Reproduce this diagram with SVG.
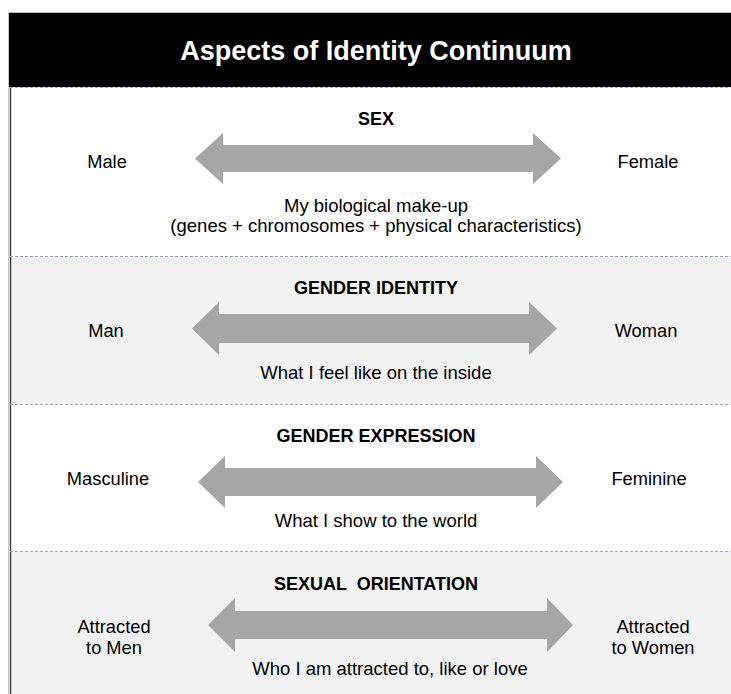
<svg xmlns="http://www.w3.org/2000/svg" width="731" height="694" viewBox="0 0 731 694">
<defs>
<style>
.t{font-family:"Liberation Sans",Arial,sans-serif;fill:#000;text-anchor:middle}
.h{font-size:18px;font-weight:bold}
.s{font-size:18.3px}
.d{font-size:18.5px}
.arr{fill:#a6a6a6}
.div{stroke:#8eaadb;stroke-width:1;stroke-dasharray:3,2;fill:none}
</style>
</defs>
<rect width="731" height="694" fill="#ffffff"/>
<g id="header">
<rect x="9" y="12" width="722" height="75" fill="#000"/>
<line x1="9" y1="12.5" x2="731" y2="12.5" stroke="#c0c0c0" stroke-width="1"/>
<text x="376" y="60" class="t" style="font-size:27px;font-weight:bold;fill:#fff">Aspects of Identity Continuum</text>
</g>
<g id="rows">
<rect x="10" y="87" width="721" height="169" fill="#ffffff"/>
<rect x="10" y="256" width="721" height="148" fill="#f2f2f2"/>
<rect x="10" y="404" width="721" height="148" fill="#ffffff"/>
<rect x="10" y="552" width="721" height="142" fill="#f2f2f2"/>
<line x1="10.5" y1="87" x2="10.5" y2="694" stroke="#404040" stroke-width="1.5"/>
<line x1="8.5" y1="12" x2="8.5" y2="694" stroke="#c8c8c8" stroke-width="1"/>
</g>
<g id="connectors">
<line class="div" x1="10" y1="87.5" x2="731" y2="87.5"/>
<line class="div" x1="10" y1="256.5" x2="731" y2="256.5"/>
<line class="div" x1="10" y1="404.5" x2="731" y2="404.5"/>
<line class="div" x1="10" y1="551.5" x2="731" y2="551.5"/>
</g>
<g id="sex">
<path class="arr" d="M195,158.5 L223,133 L223,145 L533,145 L533,133 L561,158.5 L533,184 L533,172 L223,172 L223,184 Z"/>
<text x="376" y="125" class="t h">SEX</text>
<text x="107" y="168" class="t s">Male</text>
<text x="648" y="168" class="t s">Female</text>
<text x="376" y="212" class="t d">My biological make-up</text>
<text x="376" y="232" class="t d">(genes + chromosomes + physical characteristics)</text>
</g>
<g id="gender-identity">
<path class="arr" d="M192,328.5 L219,302 L219,314 L529,314 L529,302 L557,328.5 L529,355 L529,343 L219,343 L219,355 Z"/>
<text x="376" y="294" class="t h">GENDER IDENTITY</text>
<text x="106" y="337" class="t s">Man</text>
<text x="646" y="337" class="t s">Woman</text>
<text x="376" y="379" class="t d">What I feel like on the inside</text>
</g>
<g id="gender-expression">
<path class="arr" d="M198,482 L225,456 L225,468 L536,468 L536,456 L563,482 L536,508 L536,496 L225,496 L225,508 Z"/>
<text x="376" y="442" class="t h">GENDER EXPRESSION</text>
<text x="108" y="485" class="t s">Masculine</text>
<text x="649" y="485" class="t s">Feminine</text>
<text x="376" y="527" class="t d">What I show to the world</text>
</g>
<g id="sexual-orientation">
<path class="arr" d="M208,625 L235,598 L235,611 L547,611 L547,598 L573,625 L547,652 L547,639 L235,639 L235,652 Z"/>
<text x="376" y="590" class="t h" xml:space="preserve">SEXUAL  ORIENTATION</text>
<text x="114" y="633" class="t s">Attracted</text>
<text x="114" y="654" class="t s">to Men</text>
<text x="653" y="633" class="t s">Attracted</text>
<text x="653" y="654" class="t s">to Women</text>
<text x="390" y="675" class="t d">Who I am attracted to, like or love</text>
</g>
</svg>
